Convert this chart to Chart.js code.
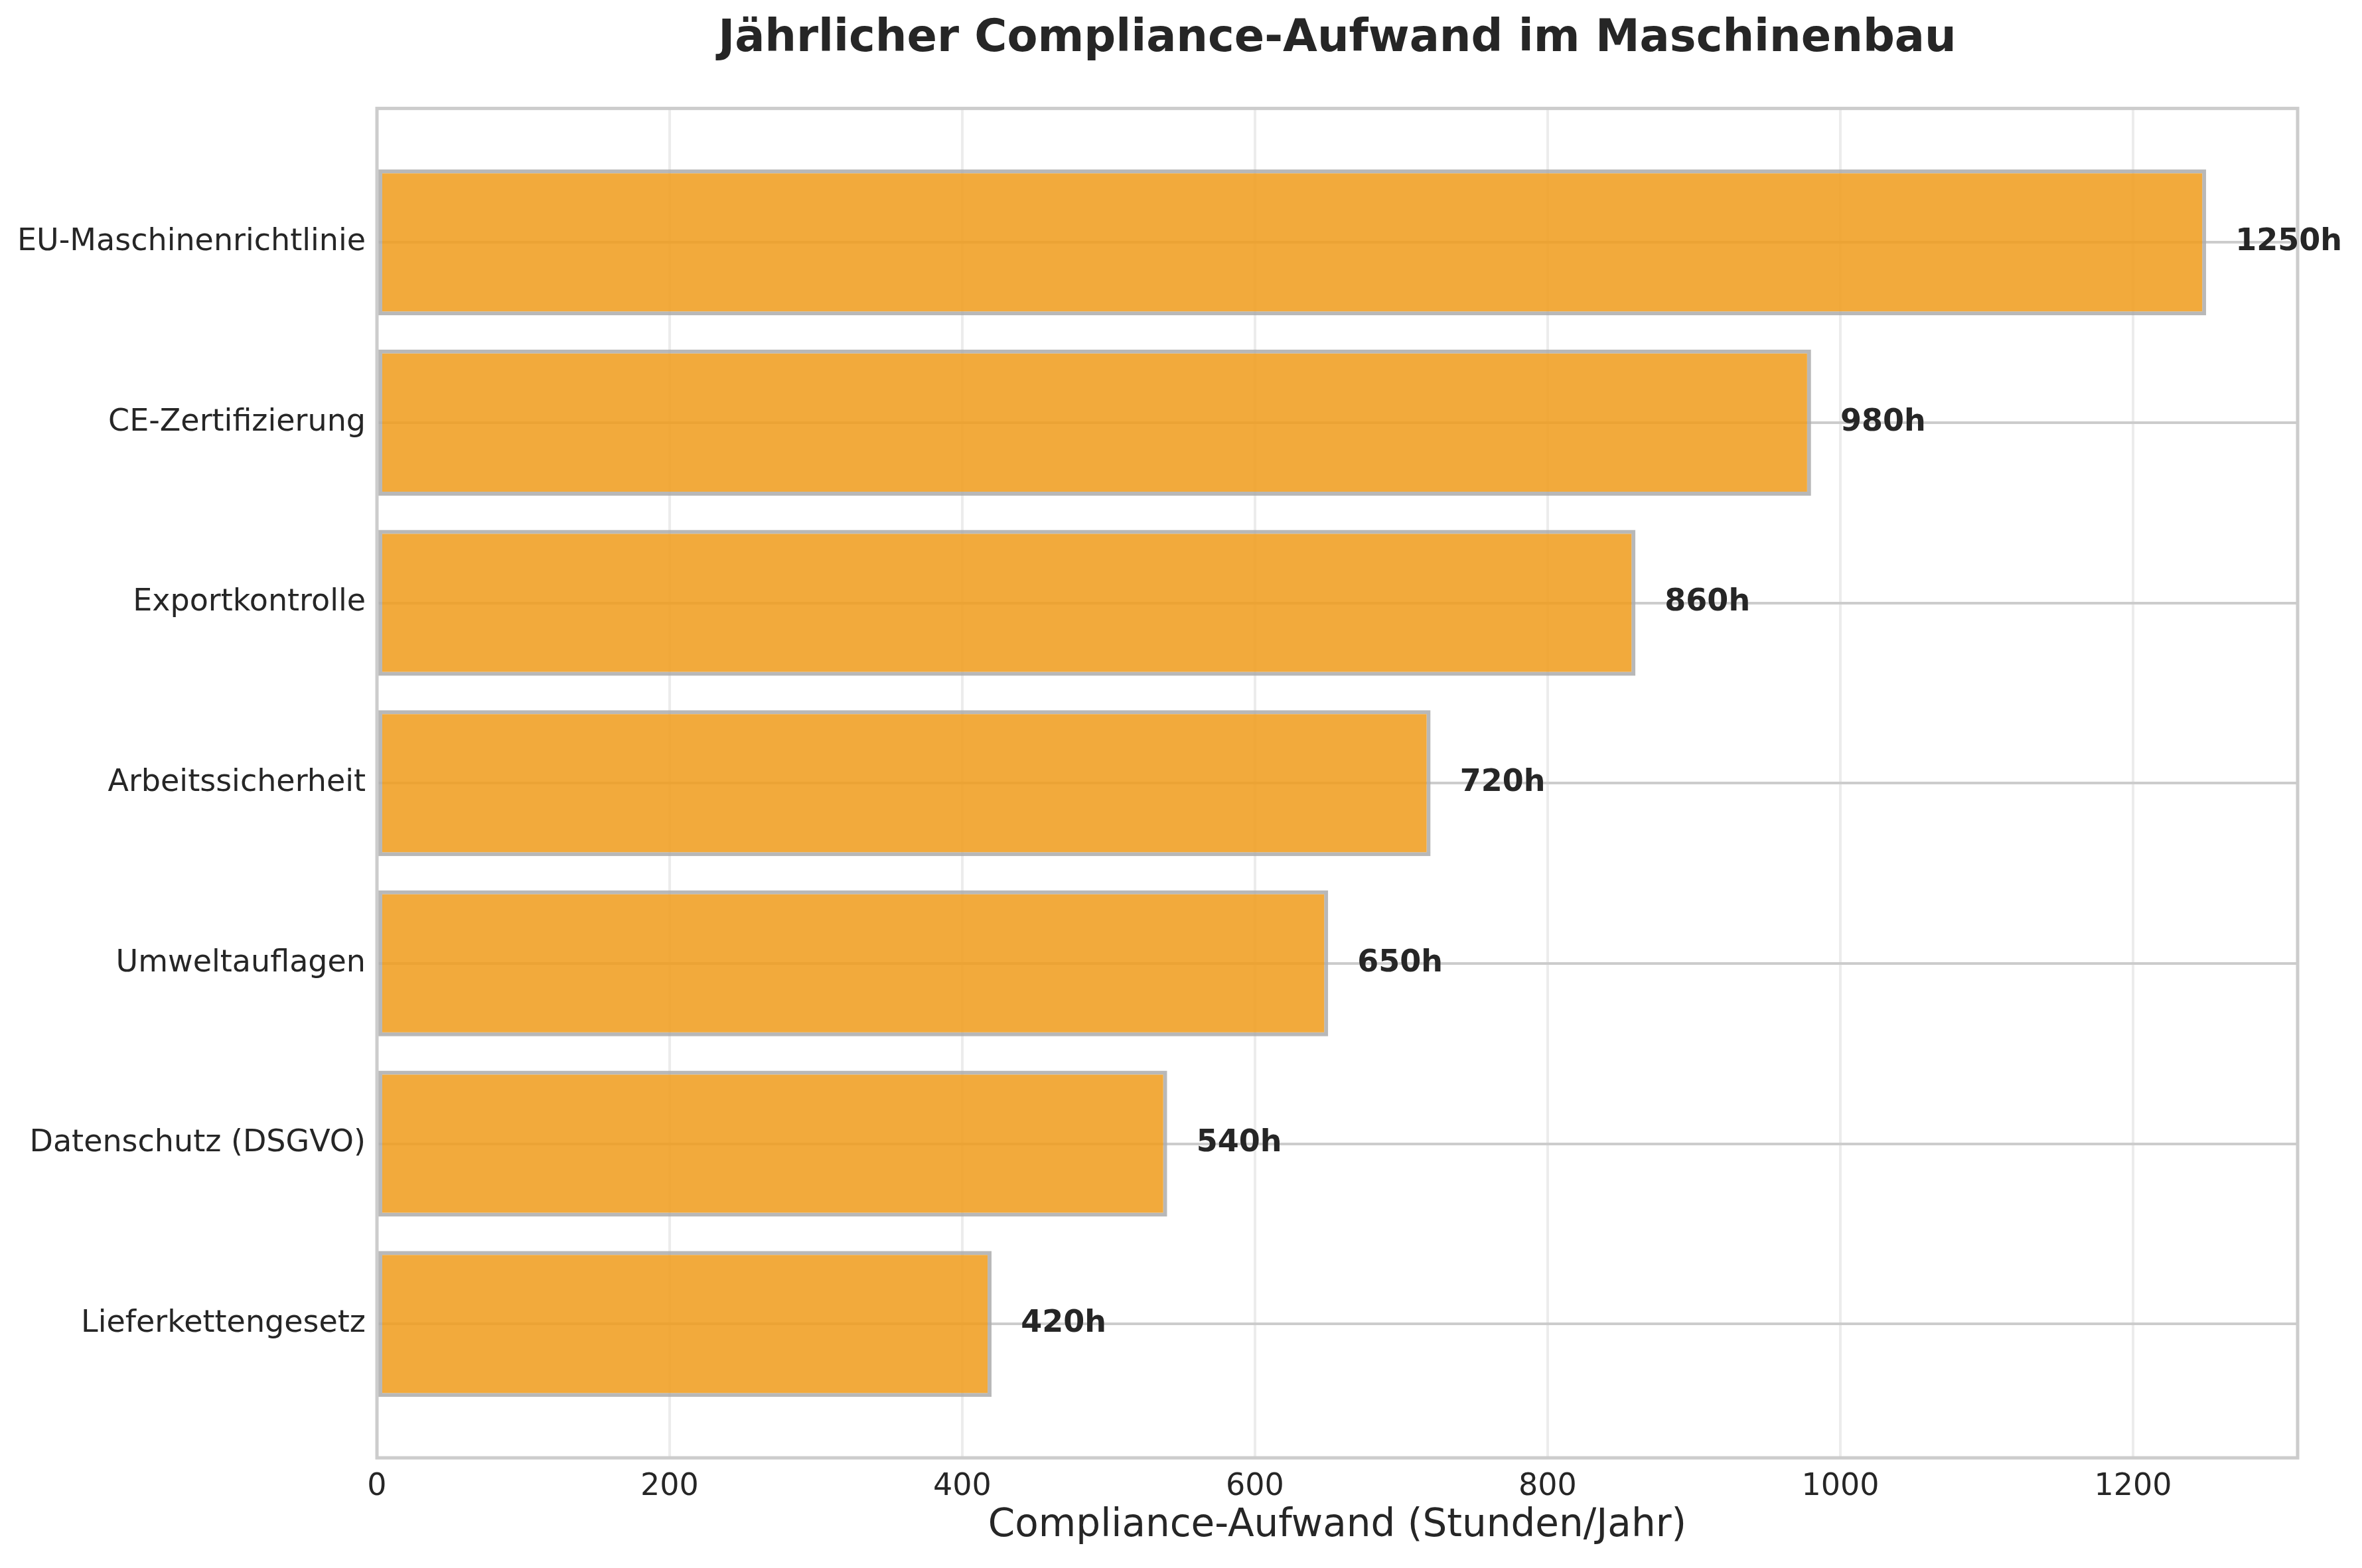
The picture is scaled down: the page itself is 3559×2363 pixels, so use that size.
<!DOCTYPE html>
<html>
<head>
<meta charset="utf-8">
<script src="https://cdn.jsdelivr.net/npm/chart.js@4.4.1/dist/chart.umd.min.js"></script>
<style>
html,body{margin:0;padding:0;background:#fff;}
canvas{display:block;}
</style>
</head>
<body>
<canvas id="c" width="3559" height="2363"></canvas>
<script>
const categories = ["EU-Maschinenrichtlinie","CE-Zertifizierung","Exportkontrolle","Arbeitssicherheit","Umweltauflagen","Datenschutz (DSGVO)","Lieferkettengesetz"];
const hours = [1250, 980, 860, 720, 650, 540, 420];
const valueSuffix = "h";
const titleText = "Jährlicher Compliance-Aufwand im Maschinenbau";
const xAxisTitle = "Compliance-Aufwand (Stunden/Jahr)";

const FONT = "'DejaVu Sans', sans-serif";
const TEXT = "#262626";

const frame = {
  id: 'frame',
  afterDatasetsDraw(chart){
    const {ctx, chartArea:a} = chart;
    ctx.save();
    ctx.strokeStyle = '#cccccc';
    ctx.lineWidth = 5;
    ctx.strokeRect(a.left, a.top, a.right - a.left, a.bottom - a.top);
    ctx.restore();
  }
};

const valueLabels = {
  id: 'valueLabels',
  afterDraw(chart){
    const {ctx} = chart;
    const xs = chart.scales.x, ys = chart.scales.y;
    ctx.save();
    ctx.font = "bold 46px " + FONT;
    ctx.fillStyle = TEXT;
    ctx.textAlign = 'left';
    ctx.textBaseline = 'middle';
    hours.forEach((v,i)=>{
      ctx.fillText(v + valueSuffix, xs.getPixelForValue(v + 20), ys.getPixelForValue(i));
    });
    ctx.restore();
  }
};

new Chart(document.getElementById('c'), {
  type: 'bar',
  data: {
    datasets: [{
      data: hours.map((v,i)=>({x:v, y:i})),
      backgroundColor: 'rgba(240,156,28,0.86)',
      borderColor: 'rgba(172,172,172,0.85)',
      borderWidth: 6,
      borderSkipped: false,
      barPercentage: 0.81,
      categoryPercentage: 1.0
    }]
  },
  options: {
    indexAxis: 'y',
    responsive: false,
    animation: false,
    devicePixelRatio: 1,
    layout: {padding: {left: 0, right: 97, top: 0, bottom: 0}},
    plugins: {
      legend: {display: false},
      tooltip: {enabled: false},
      title: {
        display: true,
        fullSize: false,
        text: titleText,
        color: TEXT,
        font: {family: FONT, size: 67, weight: 'bold'},
        padding: {top: 19, bottom: 64}
      }
    },
    scales: {
      x: {
        type: 'linear',
        min: 0,
        max: 1312.5,
        position: 'bottom',
        offset: false,
        afterFit(s){ s.height = 166; },
        border: {display: false},
        grid: {color: '#ececec', lineWidth: 4, drawTicks: false, offset: false},
        ticks: {stepSize: 200, includeBounds: false, color: TEXT, padding: 16,
                font: {family: FONT, size: 46}, maxRotation: 0,
                callback: (v)=> String(v)},
        title: {display: true, text: xAxisTitle, color: TEXT,
                font: {family: FONT, size: 58}, padding: {top: 4, bottom: 28}}
      },
      y: {
        type: 'linear',
        reverse: true,
        min: -0.743,
        max: 6.743,
        offset: false,
        afterFit(s){ s.width = 568; },
        afterBuildTicks(s){ s.ticks = categories.map((c,i)=>({value:i})); },
        border: {display: false},
        grid: {color: '#cccccc', lineWidth: 4, drawTicks: false, offset: false},
        ticks: {autoSkip: false, color: TEXT, padding: 17,
                font: {family: FONT, size: 46},
                callback: (v)=> categories[v]}
      }
    }
  },
  plugins: [frame, valueLabels]
});
</script>
</body>
</html>
